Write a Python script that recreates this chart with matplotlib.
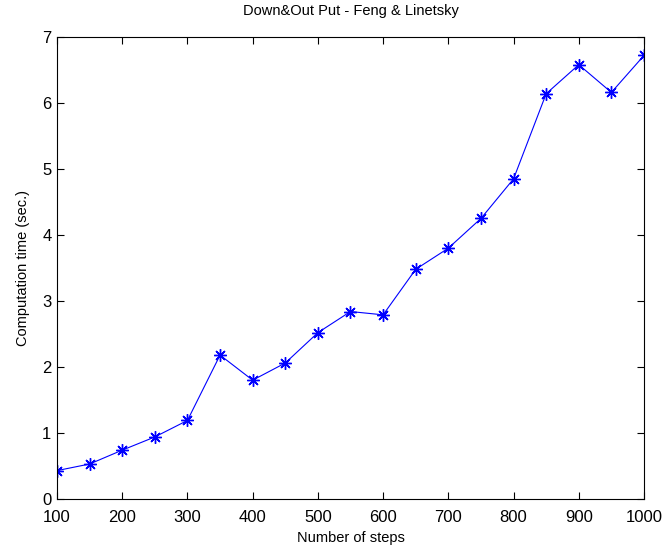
import matplotlib
matplotlib.use("Agg")
import matplotlib.pyplot as plt

plt.rcParams['font.family'] = ['Liberation Sans', 'DejaVu Sans']

# Timing results for the Feng & Linetsky down-and-out put
steps = [100, 150, 200, 250, 300, 350, 400, 450, 500, 550,
         600, 650, 700, 750, 800, 850, 900, 950, 1000]
times = [0.43, 0.53, 0.74, 0.94, 1.19, 2.18, 1.80, 2.06, 2.52, 2.84,
         2.79, 3.48, 3.80, 4.25, 4.85, 6.14, 6.58, 6.16, 6.72]

fig = plt.figure(figsize=(6.62, 5.51), dpi=100)
ax = fig.add_axes([0.0861, 0.0944, 0.8867, 0.8385])

# asterisk markers (plus and cross overlaid)
ax.plot(steps, times, color=(0, 0, 1), linewidth=0.8, marker=(8, 2, 0),
        markersize=9, markeredgewidth=1.0)

ax.set_xlim(100, 1000)
ax.set_ylim(0, 7)
ax.set_xticks(range(100, 1001, 100))
ax.set_yticks(range(0, 8))
ax.tick_params(direction='in', top=True, right=True, labelsize=12, length=5)
ax.tick_params(axis='x', pad=8)
ax.tick_params(axis='y', pad=4)
for s in ax.spines.values():
    s.set_linewidth(0.8)

ax.set_title("Down&Out Put - Feng & Linetsky", fontsize=10.5, pad=16)
ax.set_xlabel("Number of steps", fontsize=10.5, labelpad=4)
ax.set_ylabel("Computation time (sec.)", fontsize=10.5, labelpad=9)

fig.savefig("out.png", dpi=100)
